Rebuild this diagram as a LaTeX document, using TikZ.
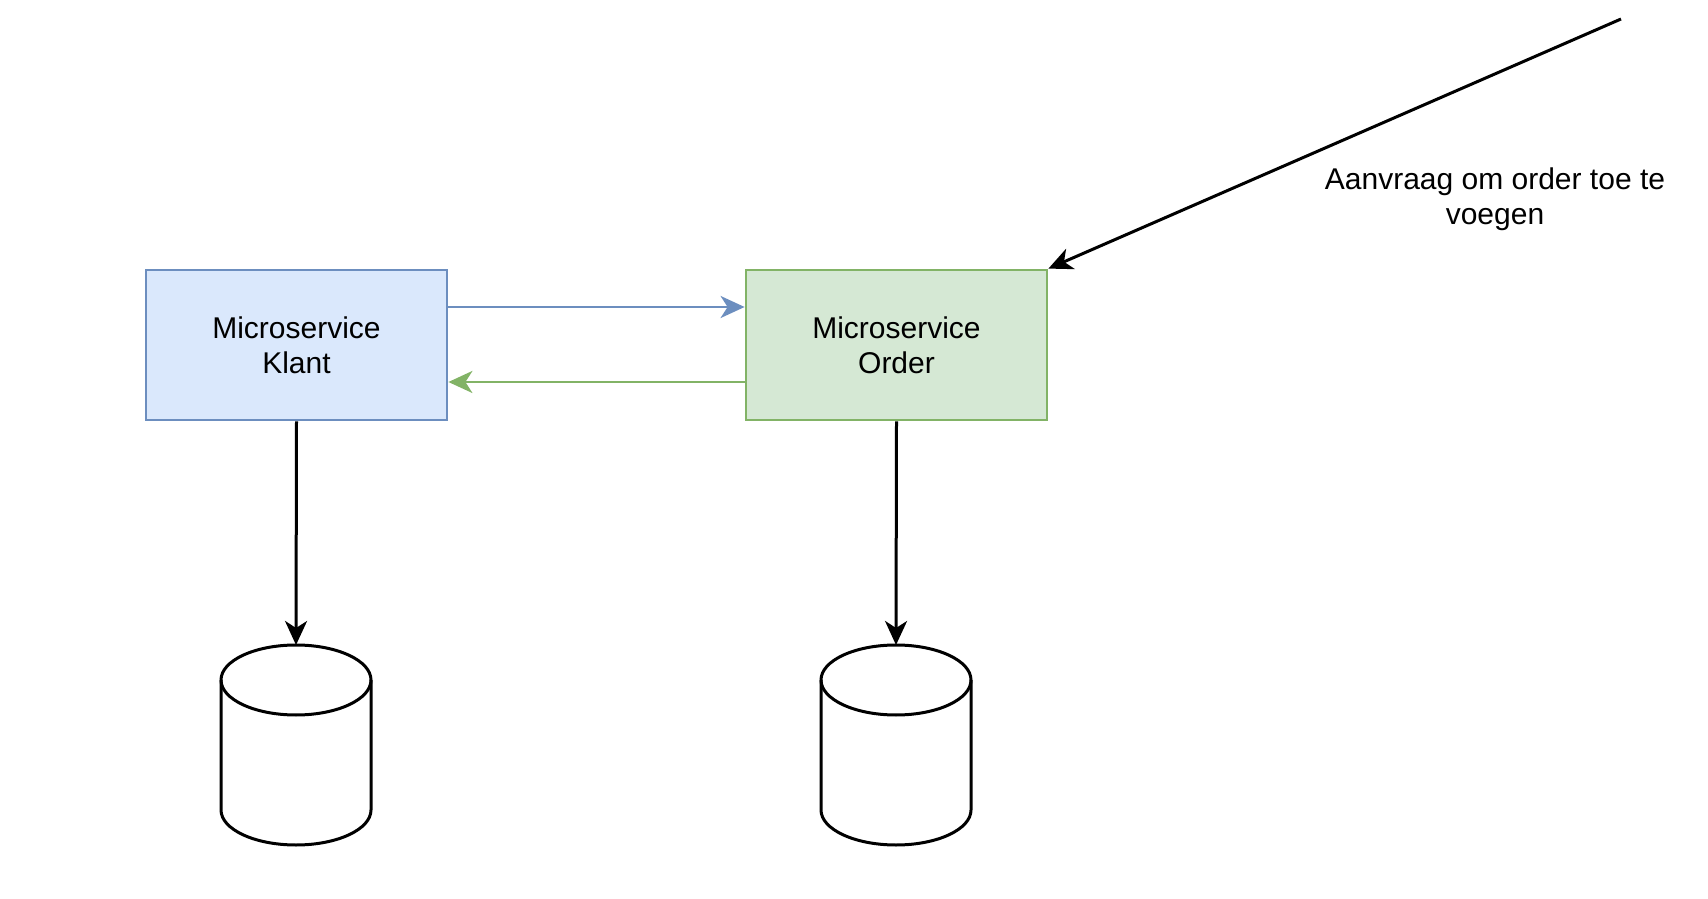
\documentclass[tikz,border=0pt]{standalone}
\usepackage{fontspec}
\setmainfont{Liberation Sans}
\usetikzlibrary{arrows.meta}
\definecolor{bluefill}{HTML}{DAE8FC}
\definecolor{bluedraw}{HTML}{6C8EBF}
\definecolor{greenfill}{HTML}{D5E8D4}
\definecolor{greendraw}{HTML}{82B366}
\tikzset{
  svc/.style={rectangle, minimum width=301pt, minimum height=150pt, line width=2.8pt, align=center, font=\fontsize{30}{35}\selectfont, inner sep=0pt},
  tip/.style={-{Stealth[length=24pt,width=22pt,inset=7pt]}},
  conn/.style={line width=2.6pt, tip},
  bconn/.style={line width=3pt, tip},
  dbline/.style={line width=3pt, line join=round},
}
\begin{document}
\begin{tikzpicture}[x=1pt,y=1pt]
\useasboundingbox (0,0) rectangle (1708,898);
\node[svc, fill=bluefill, draw=bluedraw] (klant) at (296.5,553) {Microservice\\Klant};
\node[svc, fill=greenfill, draw=greendraw] (order) at (896.5,553) {Microservice\\Order};
% databases
\draw[dbline] (221,218) -- (221,88) arc[start angle=180,end angle=360,x radius=75pt,y radius=35pt] -- (371,218) arc[start angle=0,end angle=180,x radius=75pt,y radius=35pt] -- cycle;
\draw[dbline] (221,218) arc[start angle=180,end angle=360,x radius=75pt,y radius=35pt];
\coordinate (db1) at (296,253);
\draw[dbline] (821,218) -- (821,88) arc[start angle=180,end angle=360,x radius=75pt,y radius=35pt] -- (971,218) arc[start angle=0,end angle=180,x radius=75pt,y radius=35pt] -- cycle;
\draw[dbline] (821,218) arc[start angle=180,end angle=360,x radius=75pt,y radius=35pt];
\coordinate (db2) at (896,253);
% connectors
\draw[conn, draw=bluedraw, fill=bluedraw] ([yshift=38pt]klant.east) -- ([yshift=38pt]order.west);
\draw[conn, draw=greendraw, fill=greendraw] ([yshift=-37pt]order.west) -- ([yshift=-37pt]klant.east);
\draw[bconn] (klant.south) -- (db1);
\draw[bconn] (order.south) -- (db2);
\coordinate (src) at (1621,879);
\draw[bconn] (src) -- (order.north east);
\node[align=center, font=\fontsize{30}{35}\selectfont, inner sep=0pt] (lbl) at (1495,699) {Aanvraag om order toe te\\voegen};
\end{tikzpicture}
\end{document}
